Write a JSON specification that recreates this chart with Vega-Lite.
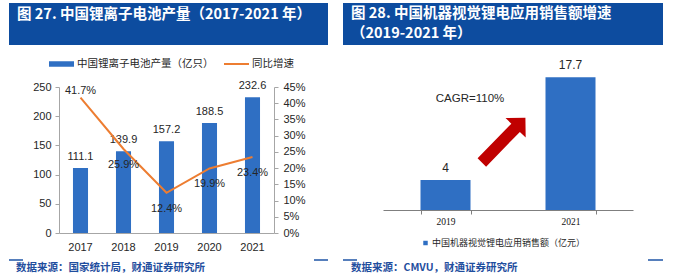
{
  "$schema": "https://vega.github.io/schema/vega-lite/v6.json",
  "background": "white",
  "padding": {"left": 8, "top": 3, "right": 0, "bottom": 0},
  "columns": 2,
  "spacing": {"row": 5, "column": 15},
  "bounds": "flush",
  "align": "each",
  "config": {
    "view": {"stroke": null},
    "font": "Liberation Sans",
    "axis": {"grid": false, "labelColor": "#262626", "domainColor": "#a6a6a6", "tickColor": "#a6a6a6", "labelFont": "Liberation Sans"},
    "legend": {"padding": 0, "labelColor": "#262626", "labelFont": "Noto Sans CJK SC", "labelLimit": 400}
  },
  "resolve": {
    "scale": {"fill": "independent", "stroke": "independent"},
    "legend": {"fill": "independent", "stroke": "independent"}
  },
  "concat": [
    {
      "width": 319,
      "height": 42,
      "data": {"values": [{"figure": 27}]},
      "mark": {"type": "rect", "color": "#0d4c9f"},
      "encoding": {},
      "title": {
        "text": "图 27. 中国锂离子电池产量（2017-2021 年）",
        "orient": "bottom", "anchor": "start", "frame": "group",
        "dx": 8, "offset": -37, "baseline": "top",
        "color": "white", "font": "Noto Sans CJK SC", "fontWeight": "bold", "fontSize": 14.5
      }
    },
    {
      "width": 320,
      "height": 42,
      "data": {"values": [{"figure": 28}]},
      "mark": {"type": "rect", "color": "#0d4c9f"},
      "encoding": {},
      "title": {
        "text": ["图 28. 中国机器视觉锂电应用销售额增速", "（2019-2021 年）"],
        "orient": "bottom", "anchor": "start", "frame": "group",
        "dx": 8, "offset": -38, "baseline": "top", "lineHeight": 20,
        "color": "white", "font": "Noto Sans CJK SC", "fontWeight": "bold", "fontSize": 14.5
      }
    },
    {
      "width": 319,
      "height": 183,
      "data": {"values": [
        {"year": "2017", "output": 111.1, "growth": 0.417},
        {"year": "2018", "output": 139.9, "growth": 0.259},
        {"year": "2019", "output": 157.2, "growth": 0.124},
        {"year": "2020", "output": 188.5, "growth": 0.199},
        {"year": "2021", "output": 232.6, "growth": 0.234}
      ]},
      "encoding": {
        "x": {
          "field": "year", "type": "ordinal",
          "scale": {"range": [50, 265], "paddingInner": 0.65, "paddingOuter": 0.325},
          "axis": {"title": null, "labelAngle": 0, "ticks": false, "labelPadding": 8, "labelFontSize": 11}
        }
      },
      "layer": [
        {
          "encoding": {
            "y": {
              "field": "output", "type": "quantitative",
              "scale": {"domain": [0, 250], "range": [183, 37]},
              "axis": {"title": null, "values": [0, 50, 100, 150, 200, 250], "offset": -50, "tickSize": 4, "labelPadding": 4, "labelFontSize": 11}
            }
          },
          "layer": [
            {
              "mark": {"type": "bar"},
              "encoding": {
                "fill": {
                  "datum": "中国锂离子电池产量（亿只）",
                  "scale": {"range": ["#2f6fc3"]},
                  "legend": {"orient": "none", "legendX": 39, "legendY": 0.5, "title": null, "symbolType": "M-1,-0.22H1V0.22H-1Z", "symbolSize": 625, "labelFontSize": 10.5, "labelOffset": 2}
                }
              }
            },
            {
              "mark": {"type": "text", "dy": -11, "fontSize": 11, "color": "#262626"},
              "encoding": {"text": {"field": "output", "type": "quantitative", "format": ".1f"}}
            }
          ]
        },
        {
          "encoding": {
            "y": {
              "field": "growth", "type": "quantitative",
              "scale": {"domain": [0, 0.45], "range": [183, 37]},
              "axis": {"title": null, "orient": "right", "format": "0%", "values": [0, 0.05, 0.1, 0.15, 0.2, 0.25, 0.3, 0.35, 0.4, 0.45], "offset": -54, "tickSize": 4, "labelPadding": 5, "labelFontSize": 11}
            }
          },
          "layer": [
            {
              "mark": {"type": "line", "strokeWidth": 2},
              "encoding": {
                "stroke": {
                  "datum": "同比增速",
                  "scale": {"range": ["#ed7d31"]},
                  "legend": {"orient": "none", "legendX": 214, "legendY": 0.5, "title": null, "symbolType": "stroke", "symbolSize": 625, "symbolStrokeWidth": 2, "labelFontSize": 10.5, "labelOffset": 2}
                }
              }
            },
            {
              "transform": [{"filter": "datum.year == '2017'"}],
              "mark": {"type": "text", "dy": -7, "fontSize": 11, "color": "#262626"},
              "encoding": {"text": {"field": "growth", "type": "quantitative", "format": ".1%"}}
            },
            {
              "transform": [{"filter": "datum.year != '2017'"}],
              "mark": {"type": "text", "dy": 16, "fontSize": 11, "color": "#262626"},
              "encoding": {"text": {"field": "growth", "type": "quantitative", "format": ".1%"}}
            }
          ]
        }
      ],
      "resolve": {"scale": {"y": "independent"}}
    },
    {
      "width": 320,
      "height": 205,
      "layer": [
        {
          "data": {"values": [
            {"year": "2019", "sales": 4},
            {"year": "2021", "sales": 17.7}
          ]},
          "encoding": {
            "x": {
              "field": "year", "type": "ordinal",
              "scale": {"range": [40, 290], "paddingInner": 0.6, "paddingOuter": 0.3},
              "axis": {"title": null, "labelAngle": 0, "tickBand": "extent", "tickSize": 4, "offset": -45, "labelPadding": 2, "labelFont": "Liberation Serif", "labelFontSize": 9.5, "labelColor": "#111111", "domainColor": "#7f7f7f", "tickColor": "#7f7f7f"}
            },
            "y": {
              "field": "sales", "type": "quantitative",
              "scale": {"domain": [0, 20], "range": [160, 10]},
              "axis": {"title": null, "values": [0, 2, 4, 6, 8, 10, 12, 14, 16, 18, 20], "offset": -40, "tickSize": 3, "labelPadding": 4, "labelFont": "Liberation Serif", "labelFontSize": 9, "labelColor": "#111111", "domainColor": "#7f7f7f", "tickColor": "#7f7f7f"}
            }
          },
          "layer": [
            {
              "mark": {"type": "bar"},
              "encoding": {
                "fill": {
                  "datum": "中国机器视觉锂电应用销售额（亿元）",
                  "scale": {"range": ["#2f6fc3"]},
                  "legend": {"orient": "none", "legendX": 78, "legendY": 188.5, "title": null, "symbolType": "square", "symbolSize": 20, "labelFontSize": 9, "labelOffset": 2}
                }
              }
            },
            {
              "mark": {"type": "text", "dy": -12.5, "fontSize": 12, "color": "#262626"},
              "encoding": {"text": {"field": "sales", "type": "quantitative"}}
            }
          ]
        },
        {
          "data": {"values": [{"note": "CAGR=110%", "pos": 0.696, "level": 14.8}]},
          "mark": {"type": "text", "fontSize": 11.5, "color": "#262626"},
          "encoding": {
            "x": {"field": "pos", "type": "quantitative", "scale": {"domain": [0, 2], "range": [40, 290]}, "axis": null},
            "y": {"field": "level", "type": "quantitative", "axis": null},
            "text": {"field": "note"}
          }
        },
        {
          "data": {"values": [{"pos": 0.965, "level": 9.32}]},
          "mark": {"type": "point", "shape": "M-1,-0.19L0.55,-0.19L0.55,-0.45L1,0L0.55,0.45L0.55,0.19L-1,0.19Z", "size": 3906, "angle": -45.8, "filled": true, "color": "#c00000", "opacity": 1, "strokeWidth": 0},
          "encoding": {
            "x": {"field": "pos", "type": "quantitative", "scale": {"domain": [0, 2], "range": [40, 290]}, "axis": null},
            "y": {"field": "level", "type": "quantitative", "axis": null}
          }
        }
      ],
      "resolve": {"scale": {"x": "independent"}}
    },
    {
      "width": 319,
      "height": 1,
      "data": {"values": []},
      "mark": "point",
      "view": {"stroke": "#1f55a6", "strokeWidth": 1.5, "strokeDash": [14, 291, 14, 2000]},
      "title": {
        "text": "数据来源：国家统计局，财通证券研究所",
        "orient": "bottom", "anchor": "start", "frame": "group",
        "dx": 7, "offset": 2,
        "color": "#1f4e9e", "font": "Noto Sans CJK SC", "fontWeight": "bold", "fontSize": 10.5
      }
    },
    {
      "width": 320,
      "height": 1,
      "data": {"values": []},
      "mark": "point",
      "view": {"stroke": "#1f55a6", "strokeWidth": 1.5, "strokeDash": [14, 291, 15, 2000]},
      "title": {
        "text": "数据来源：CMVU，财通证券研究所",
        "orient": "bottom", "anchor": "start", "frame": "group",
        "dx": 8, "offset": 2,
        "color": "#1f4e9e", "font": "Noto Sans CJK SC", "fontWeight": "bold", "fontSize": 10.5
      }
    }
  ]
}
